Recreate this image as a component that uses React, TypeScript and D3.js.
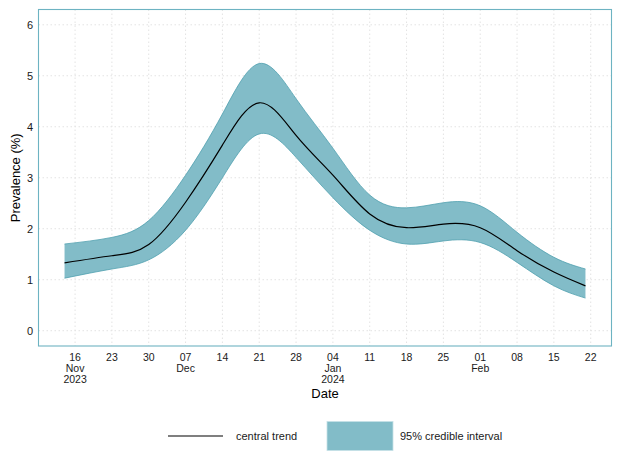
import React from "react";
import * as d3 from "d3";

const dates: string[] = [
  "2023-11-14", "2023-11-23", "2023-11-30", "2023-12-07", "2023-12-14",
  "2023-12-21", "2023-12-28", "2024-01-04", "2024-01-11", "2024-01-18", "2024-01-25",
  "2024-02-01", "2024-02-08", "2024-02-15", "2024-02-21",
];
const central: number[] = [1.33, 1.47, 1.69, 2.52, 3.64, 4.47, 3.83, 3.05, 2.29, 2.02, 2.09, 2.02, 1.57, 1.15, 0.88];
const upper: number[] = [1.70, 1.83, 2.16, 3.05, 4.25, 5.24, 4.55, 3.58, 2.66, 2.41, 2.51, 2.45, 1.93, 1.44, 1.21];
const lower: number[] = [1.03, 1.21, 1.39, 1.97, 3.00, 3.86, 3.40, 2.61, 1.97, 1.70, 1.76, 1.73, 1.34, 0.88, 0.64];

const xTicks: string[] = [
  "2023-11-16", "2023-11-23", "2023-11-30", "2023-12-07", "2023-12-14", "2023-12-21", "2023-12-28",
  "2024-01-04", "2024-01-11", "2024-01-18", "2024-01-25", "2024-02-01", "2024-02-08", "2024-02-15", "2024-02-22",
];
const xTickLabels: string[][] = [
  ["16", "Nov", "2023"], ["23"], ["30"], ["07", "Dec"], ["14"], ["21"], ["28"],
  ["04", "Jan", "2024"], ["11"], ["18"], ["25"], ["01", "Feb"], ["08"], ["15"], ["22"],
];
const yTicks: number[] = [0, 1, 2, 3, 4, 5, 6];

const parse = d3.utcParse("%Y-%m-%d");

export default function App() {
  const W = 621, H = 467;
  const left = 38.5, right = 611.5, top = 9.5, bottom = 346;
  const d0 = parse(dates[0])!.getTime();
  const d1 = parse(dates[dates.length - 1])!.getTime();
  const span = d1 - d0;
  const x = d3.scaleUtc().domain([new Date(d0 - span * 0.05), new Date(d1 + span * 0.05)]).range([left, right]);
  const y = d3.scaleLinear().domain([-0.3, 6.3]).range([bottom, top]);

  const rows = dates.map((d, i) => ({ date: parse(d)!, c: central[i], u: upper[i], l: lower[i] }));
  const curve = d3.curveNatural;
  const area = d3.area<any>().x((d) => x(d.date)).y0((d) => y(d.l)).y1((d) => y(d.u)).curve(curve);
  const line = d3.line<any>().x((d) => x(d.date)).y((d) => y(d.c)).curve(curve);
  const upLine = d3.line<any>().x((d) => x(d.date)).y((d) => y(d.u)).curve(curve);
  const loLine = d3.line<any>().x((d) => x(d.date)).y((d) => y(d.l)).curve(curve);

  const font = "'Liberation Sans', Arial, sans-serif";
  const fill = "#82bcc8";
  const edge = "#4f9fae";

  return (
    <svg width={W} height={H} style={{ position: "absolute", left: 0, top: 0, fontFamily: font }}>
      <rect x={0} y={0} width={W} height={H} fill="#fff" />
      {yTicks.map((t) => (
        <line key={"gy" + t} x1={left} x2={right} y1={y(t)} y2={y(t)} stroke="#e3e3e3" strokeWidth={1} strokeDasharray="1.5,2.5" />
      ))}
      {xTicks.map((t) => (
        <line key={"gx" + t} x1={x(parse(t)!)} x2={x(parse(t)!)} y1={top} y2={bottom} stroke="#e3e3e3" strokeWidth={1} strokeDasharray="1.5,2.5" />
      ))}
      <path d={area(rows) || ""} fill={fill} stroke="none" />
      <path d={upLine(rows) || ""} fill="none" stroke={edge} strokeWidth={0.8} />
      <path d={loLine(rows) || ""} fill="none" stroke={edge} strokeWidth={0.8} />
      <path d={line(rows) || ""} fill="none" stroke="#000" strokeWidth={1.2} />
      <rect x={left} y={top} width={right - left} height={bottom - top} fill="none" stroke="#6db3c2" strokeWidth={1.1} />
      {yTicks.map((t) => (
        <text key={"yl" + t} x={33} y={y(t)} dy="0.35em" textAnchor="end" fontSize={11} fill="#1a1a1a">{t}</text>
      ))}
      {xTicks.map((t, i) => (
        <text key={"xl" + t} x={x(parse(t)!)} y={360.5} textAnchor="middle" fontSize={10.5} fill="#1a1a1a">
          {xTickLabels[i].map((s, j) => (
            <tspan key={j} x={x(parse(t)!)} dy={j === 0 ? 0 : 11.3}>{s}</tspan>
          ))}
        </text>
      ))}
      <text x={(left + right) / 2} y={398} textAnchor="middle" fontSize={13} fill="#000">Date</text>
      <text transform={`translate(20,${(top + bottom) / 2}) rotate(-90)`} textAnchor="middle" fontSize={13} fill="#000">Prevalence (%)</text>
      <line x1={168} x2={223} y1={436} y2={436} stroke="#555" strokeWidth={1.3} />
      <text x={236} y={436} dy="0.35em" fontSize={11} fill="#1a1a1a">central trend</text>
      <rect x={327} y={421.5} width={66} height={29} fill={fill} stroke="#c5e0e6" strokeWidth={0.8} />
      <text x={400} y={436} dy="0.35em" fontSize={11} fill="#1a1a1a">95% credible interval</text>
    </svg>
  );
}
